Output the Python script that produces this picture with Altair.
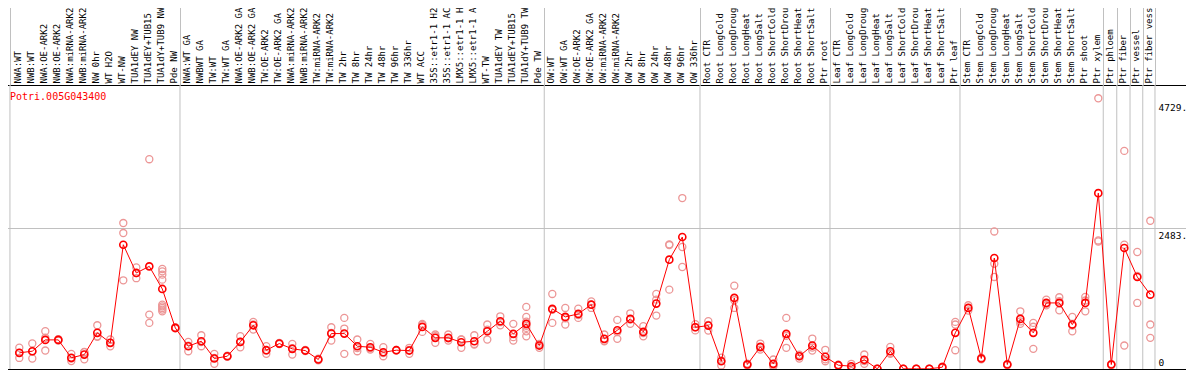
import altair as alt
import pandas as pd

gene_id = "Potri.005G043400"

categories = [
    "NWA:WT", "NWB:WT", "NWA:OE-ARK2", "NWB:OE-ARK2", "NWA:miRNA-ARK2", "NWB:miRNA-ARK2",
    "NW 0hr", "WT H2O", "WT-NW", "TUA1dEY NW", "TUA1dEY+TUB15 NW", "TUA1dY+TUB9 NW", "Pde NW",
    "NWA:WT GA", "NWBWT GA", "TW:WT", "TW:WT GA", "NWA:OE-ARK2 GA", "NWB:OE-ARK2 GA",
    "TW:OE-ARK2", "TW:OE-ARK2 GA", "NWA:miRNA-ARK2 GA", "NWB:miRNA-ARK2 GA", "TW:miRNA-ARK2",
    "TW:miRNA-ARK2 GA", "TW 2hr", "TW 8hr", "TW 24hr", "TW 48hr", "TW 96hr", "TW 336hr",
    "WT ACC", "35S::etr1-1 H2O", "35S::etr1-1 ACC", "LMX5::etr1-1 H2O", "LMX5::etr1-1 ACC",
    "WT-TW", "TUA1dEY TW", "TUA1dEY+TUB15 TW", "TUA1dY+TUB9 TW", "Pde TW",
    "OW:WT", "OW:WT GA", "OW:OE-ARK2", "OW:OE-ARK2 GA", "OW:miRNA-ARK2", "OW:miRNA-ARK2 GA",
    "OW 2hr", "OW 8hr", "OW 24hr", "OW 48hr", "OW 96hr", "OW 336hr",
    "Root CTR", "Root LongCold", "Root LongDrought", "Root LongHeat", "Root LongSalt",
    "Root ShortCold", "Root ShortDrought", "Root ShortHeat", "Root ShortSalt", "Ptr root",
    "Leaf CTR", "Leaf LongCold", "Leaf LongDrought", "Leaf LongHeat", "Leaf LongSalt",
    "Leaf ShortCold", "Leaf ShortDrought", "Leaf ShortHeat", "Leaf ShortSalt", "Ptr leaf",
    "Stem CTR", "Stem LongCold", "Stem LongDrought", "Stem LongHeat", "Stem LongSalt",
    "Stem ShortCold", "Stem ShortDrought", "Stem ShortHeat", "Stem ShortSalt", "Ptr shoot",
    "Ptr xylem", "Ptr phloem", "Ptr fiber", "Ptr vessel", "Ptr fiber vessel",
]

means = [
    285, 313, 513, 513, 197, 254, 637, 461, 2189, 1692, 1808, 1410, 724,
    401, 489, 185, 225, 478, 770, 331, 448, 355, 325, 167, 624, 624, 401, 383, 295, 331,
    325, 742, 549, 549, 471, 489, 665, 841, 619, 795, 413,
    1059, 918, 971, 1134, 531, 682, 883, 654, 1152, 1926, 2325, 735,
    765, 137, 1252, 79, 390, 91, 619, 225, 413, 215,
    67, 49, 162, 3, 313, 3, 3, 3, 32, 637,
    1076, 185, 1955, 79, 883, 637, 1164, 1164, 783, 1164,
    3098, 79, 2131, 1621, 1310,
]

replicates = [
    [375, 285, 195], [450, 310, 185], [665, 550, 325], [525, 515, 500], [267, 185, 140],
    [300, 295, 170], [770, 575, 566], [520, 460, 400], [2571, 2395, 1562], [1790, 1690, 1600],
    [3696, 958, 812], [1762, 1720, 1662, 1574, 1134, 1104, 1076, 1046, 1016], [735, 720, 715],
    [478, 410, 313], [594, 475, 401], [267, 195, 91], [235, 225, 215], [577, 475, 383],
    [830, 785, 695], [401, 325, 267], [458, 448, 438], [443, 367, 255], [335, 325, 315],
    [180, 165, 155], [735, 636, 501], [900, 712, 267], [519, 370, 313], [443, 365, 343],
    [383, 280, 225], [335, 330, 328], [373, 335, 267], [795, 777, 654], [607, 580, 461],
    [607, 540, 501], [519, 520, 373], [594, 442, 431], [783, 693, 519], [928, 825, 770],
    [795, 561, 501], [1094, 918, 835, 760, 724, 665, 577], [443, 423, 373],
    [1322, 1043, 812], [1076, 895, 783], [1064, 950, 900], [1192, 1134, 1076], [607, 497, 489],
    [865, 650, 531], [981, 873, 795], [753, 632, 577], [1322, 1222, 941], [2184, 2196, 1398],
    [3011, 2149, 1797], [790, 735, 680],
    [841, 777, 677], [200, 150, 62], [1468, 1212, 1076], [95, 80, 62], [448, 380, 342],
    [167, 62, 45], [900, 584, 373], [250, 240, 185], [536, 378, 325], [338, 170, 137],
    [75, 65, 60], [91, 35, 20], [255, 140, 91], [6, 3, 0], [390, 282, 267], [5, 3, 1],
    [5, 3, 1], [5, 3, 1], [40, 30, 26], [830, 783, 331],
    [1122, 1076, 1030], [200, 185, 170], [2423, 1855, 1621], [90, 80, 67], [1016, 838, 795],
    [812, 744, 355], [1222, 1150, 1122], [1263, 1195, 1034], [918, 766, 665], [1270, 1206, 1016],
    [4769, 2265, 2247], [90, 80, 67], [3842, 2189, 413], [2061, 1640, 1164], [2611, 783, 549],
]

y_ticks = [0, 2483, 4729]
group_boundaries = [-0.72, 12.36, 40.38, 52.36, 62.36, 72.36, 83.38, 84.42, 85.44, 86.42, 87.36]

MONO = "DejaVu Sans Mono"

mean_df = pd.DataFrame({"idx": list(range(len(categories))), "cat": categories, "v": means})
rep_rows = []
for i, reps in enumerate(replicates):
    for r in reps:
        rep_rows.append({"idx": i, "cat": categories[i], "v": r})
rep_df = pd.DataFrame(rep_rows)
sep_df = pd.DataFrame({"sep": group_boundaries})
title_df = pd.DataFrame({"t": [gene_id]})

x_scale = alt.Scale(domain=[-1.4077, 90.2846], nice=False, zero=False)
y_scale = alt.Scale(domain=[0, 5003], nice=False, zero=False)

label_expr = "[" + ",".join("'" + c + "'" for c in categories) + "][datum.value]"

sep_layer = alt.Chart(sep_df).mark_rule(color="#c0c0c0", strokeWidth=1).encode(
    x=alt.X("sep:Q", scale=x_scale, title=None,
            axis=alt.Axis(orient="top", values=group_boundaries, labels=False, domain=False,
                          grid=False, ticks=True, tickSize=85, tickColor="#c0c0c0",
                          tickWidth=1, title=None))
)

rep_layer = alt.Chart(rep_df).mark_point(
    shape="circle", filled=False, size=50, strokeWidth=1.3, color="#ec9696", opacity=1, clip=True
).encode(
    x=alt.X("idx:Q", scale=x_scale, title=None,
            axis=alt.Axis(orient="top", values=list(range(len(categories))), labelExpr=label_expr,
                          labelAngle=270, labelAlign="left", labelBaseline="middle",
                          labelPadding=2, labelOffset=-2, ticks=False, domain=False, grid=False,
                          labelFont=MONO, labelFontSize=9, labelColor="black",
                          labelOverlap=False, labelLimit=300, labelFlush=False, title=None)),
    y=alt.Y("v:Q", scale=y_scale, title=None,
            axis=alt.Axis(orient="right", values=y_ticks,
                          labelExpr="datum.value == 0 ? '0' : datum.value + '.'",
                          grid=True, gridColor="#c0c0c0",
                          gridOpacity={"condition": {"test": "datum.value == 2483", "value": 1}, "value": 0},
                          ticks=False, domain=False, labelAlign="left", labelPadding=-35,
                          labelBaseline={"condition": {"test": "datum.value == 0", "value": "bottom"}, "value": "top"},
                          labelOffset={"condition": {"test": "datum.value == 0", "value": -2}, "value": 2},
                          labelFont=MONO, labelFontSize=9.5, labelColor="black", title=None)),
)

line_layer = alt.Chart(mean_df).mark_line(color="#ff0000", strokeWidth=1, clip=True).encode(
    x=alt.X("idx:Q", scale=x_scale, axis=None),
    y=alt.Y("v:Q", scale=y_scale, axis=None),
)

mean_layer = alt.Chart(mean_df).mark_point(
    shape="circle", filled=False, size=50, strokeWidth=1.6, color="#ff0000", opacity=1, clip=True
).encode(
    x=alt.X("idx:Q", scale=x_scale, axis=None),
    y=alt.Y("v:Q", scale=y_scale, axis=None),
)

title_layer = alt.Chart(title_df).mark_text(
    align="left", baseline="middle", font=MONO, fontSize=10, color="#ff0000"
).encode(
    x=alt.value(9), y=alt.value(12), text="t:N"
)

chart = alt.layer(sep_layer, rep_layer, line_layer, mean_layer, title_layer).resolve_axis(
    x="independent", y="independent"
).properties(
    width=1192, height=284,
    autosize=alt.AutoSizeParams(type="none"),
    padding={"left": -7, "top": 77, "right": -7, "bottom": 1},
    background="white",
).configure_view(stroke="black", strokeWidth=1)

chart.save("out.html", embed_options={"renderer": "svg", "actions": False})
